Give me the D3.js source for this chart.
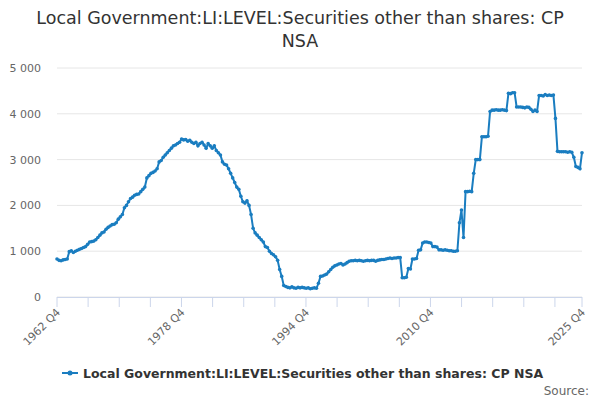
<!DOCTYPE html>
<html><head><meta charset="utf-8">
<script src="https://cdn.jsdelivr.net/npm/d3@7"></script>
<style>body{margin:0;font-family:"DejaVu Sans",sans-serif;background:#fff}</style>
</head><body><div class="container"></div>
<script>
// values, in order (quarterly, 1962 Q4 onwards)
var rise = [830,
  800,790,810,820, 830,990,1010,970, 1000,1020,1040,1060, 1080,1100,1150,1200,
  1210,1220,1250,1300, 1350,1400,1420,1480, 1520,1550,1580,1590, 1620,1700,1750,1800,
  1950,2000,2080,2150, 2180,2220,2240,2250, 2300,2350,2400,2600, 2650,2700,2720,2750,
  2800,2950,2980,3050, 3100,3150,3200,3250, 3300,3320,3350,3380, 3450,3430,3440,3400,
  3420,3380,3350,3380, 3300,3350,3380,3320, 3250,3350,3300,3250, 3300,3200,3150,3100,
  2950,2900,2880,2800, 2700,2600,2500,2400];
var fall = [2350,2200,2080,2050, 2100,2000,1800,1500, 1400,1350,1300,1250, 1200,1100,1080,1000,
  950,920,880, 800,600,450,250, 230,210,200,220, 200,190,210,200, 210,200,190,200, 180,190,200,190];
var flat = [300,450,460,480, 500,550,600,650, 680,700,720,730, 700,720,750,780,
  790,790,800,790, 800,790,780,790, 800,790,800,800, 780,800,810,820, 820,830,840,850,
  840,850,850,860, 860,420,420,430, 620,610,830,830, 840,1020,1030,1180,
  1200,1200,1190,1180, 1100,1100,1090,1030, 1030,1020,1030,1020, 1010,1010,1000,1000,
  1010];
var recent = [1620,1900,1300,2300,2300,2310,2300,2700,
  3000,3000,3000, 3500,3500,3500,3510,
  4050,4080,4080,4090,4080,4080,4090,4080,4070,
  4450,4440,4460,4460,
  4150,4150,4150,4140,4130,4150,4140,
  4100,4050,4080,4050,
  4400,4400,4390,4420,4400,4410,4400,4410,
  3900,
  3180,3170,3170,3170,3170,3160,3170,3160,
  3050,2850,2830,2800,3150];
var values = rise.concat(fall, flat, recent);
var tickLabels = ["1962 Q4","1978 Q4","1994 Q4","2010 Q4","2025 Q4"];
var yTicks = [0,1000,2000,3000,4000,5000];
var seriesName = "Local Government:LI:LEVEL:Securities other than shares: CP NSA";

var width = 600, height = 400;
var m = {left:57, right:18, top:68, bottom:103};
var color = "#1a7dc0";

var svg = d3.select(".container").append("svg")
    .attr("width", width).attr("height", height);

var n = values.length;
var x = d3.scaleLinear().domain([0, n - 1]).range([m.left, width - m.right]);
var y = d3.scaleLinear().domain([0, 5000]).range([height - m.bottom, m.top]);

svg.append("text").attr("x", 300).attr("y", 24).attr("text-anchor","middle")
  .attr("font-size", 17.5).attr("fill","#333").text("Local Government:LI:LEVEL:Securities other than shares: CP");
svg.append("text").attr("x", 300).attr("y", 47).attr("text-anchor","middle")
  .attr("font-size", 17.5).attr("fill","#333").text("NSA");

// grid + y labels
svg.selectAll(".grid").data(yTicks).enter().append("line")
  .attr("x1", m.left).attr("x2", width - m.right)
  .attr("y1", function(d){return y(d);}).attr("y2", function(d){return y(d);})
  .attr("stroke", "#e6e6e6");
svg.selectAll(".ylab").data(yTicks).enter().append("text")
  .attr("x", 41).attr("y", function(d){return y(d) + 4;})
  .attr("text-anchor","end").attr("font-size", 11).attr("fill","#666")
  .text(function(d){ return d3.format(",")(d).replace(/,/g, " "); });

// x axis
var step = (n - 1) / 16.87;
var minor = d3.range(0, n - 1, step).concat([n - 1]);
svg.append("line").attr("x1", m.left).attr("x2", width - m.right)
  .attr("y1", y(0) + 0.5).attr("y2", y(0) + 0.5).attr("stroke", "#ccd6eb");
svg.selectAll(".tk").data(minor).enter().append("line")
  .attr("x1", function(d){return x(d);}).attr("x2", function(d){return x(d);})
  .attr("y1", y(0)).attr("y2", y(0) + 10).attr("stroke", "#ccd6eb");
var labelIdx = [0, step*4, step*8, step*12, n - 1];
svg.selectAll(".xlab").data(tickLabels).enter().append("text")
  .attr("transform", function(d, i){ return "translate(" + (x(labelIdx[i]) + 4) + "," + (y(0) + 16) + ") rotate(-45)"; })
  .attr("text-anchor","end").attr("font-size", 11).attr("fill","#666").text(function(d){return d;});

// series
var line = d3.line().x(function(d, i){return x(i);}).y(function(d){return y(d);});
svg.append("path").datum(values).attr("d", line)
  .attr("fill","none").attr("stroke", color).attr("stroke-width", 2);
svg.selectAll(".pt").data(values).enter().append("circle")
  .attr("cx", function(d, i){return x(i);}).attr("cy", function(d){return y(d);})
  .attr("r", 1.8).attr("fill", color);

// legend
svg.append("line").attr("x1", 62).attr("x2", 78).attr("y1", 373).attr("y2", 373)
  .attr("stroke", color).attr("stroke-width", 2);
svg.append("circle").attr("cx", 70).attr("cy", 373).attr("r", 2.5).attr("fill", color);
svg.append("text").attr("x", 83).attr("y", 378).attr("font-size", 12.5).attr("font-weight","bold")
  .attr("fill","#333").text(seriesName);
svg.append("text").attr("x", 589).attr("y", 395).attr("text-anchor","end")
  .attr("font-size", 12).attr("fill","#666").text("Source:");
</script></body></html>
